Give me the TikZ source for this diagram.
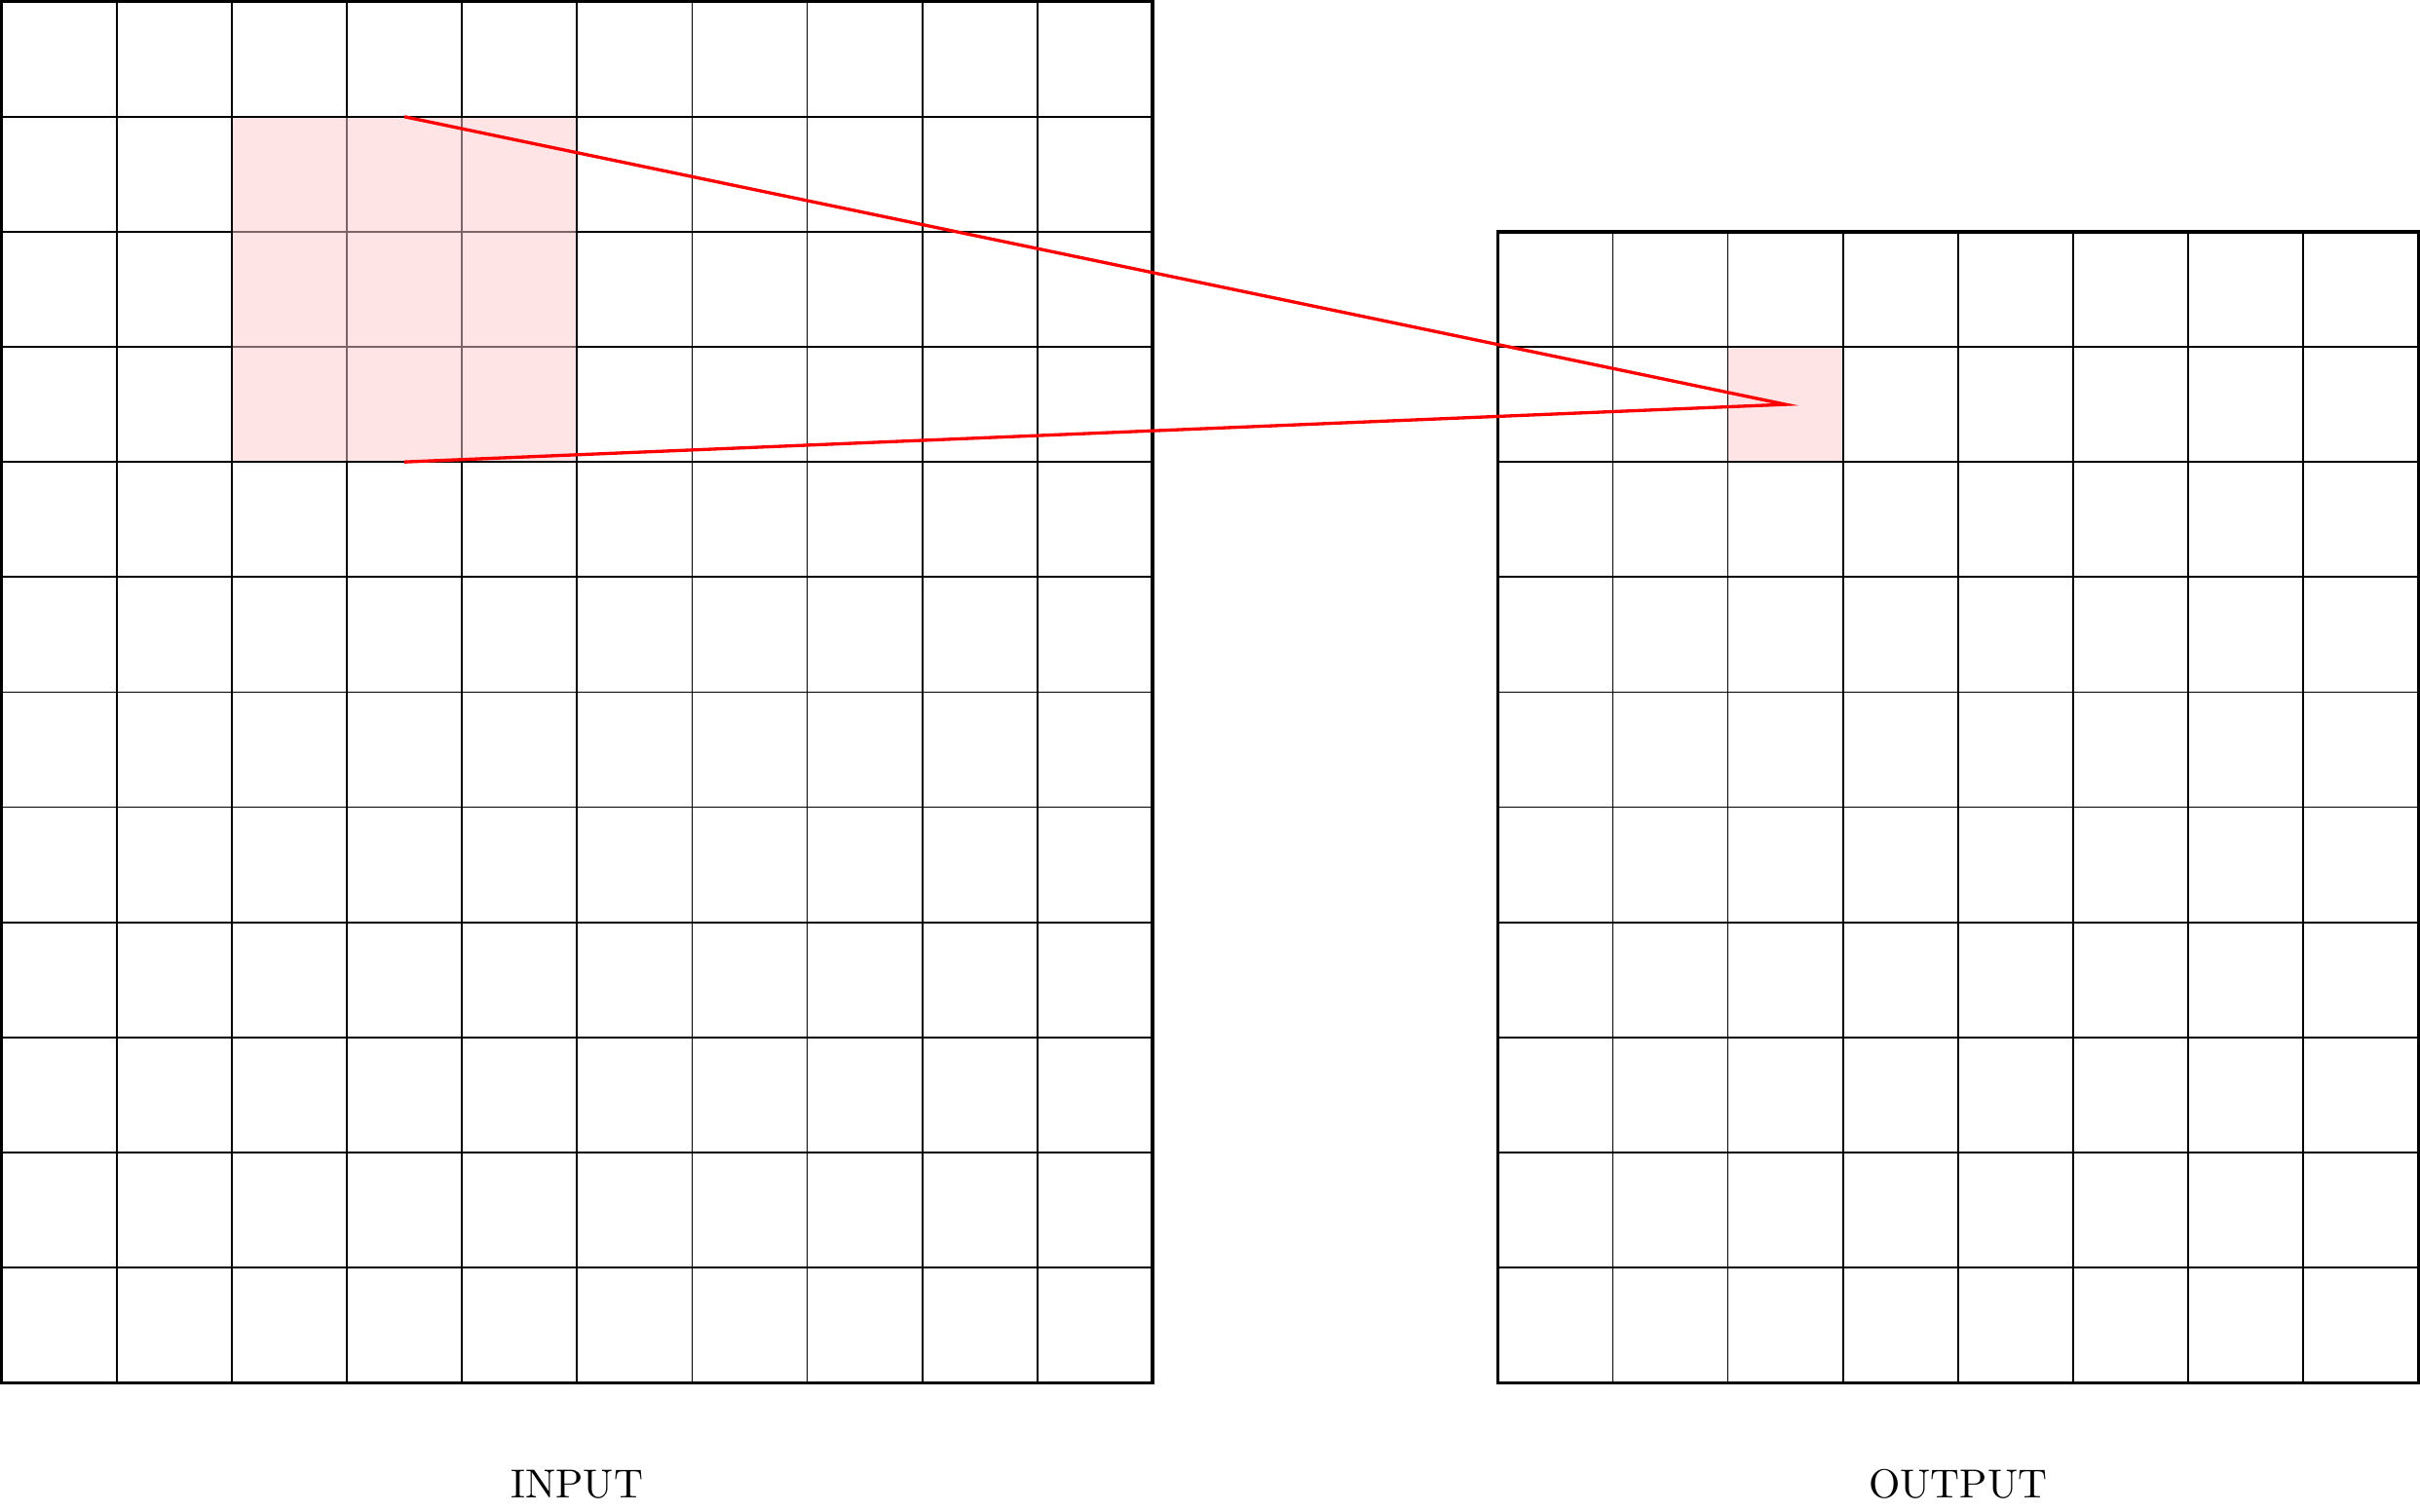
\documentclass[tikz,border=0pt]{standalone}
\definecolor{hlpink}{RGB}{255,228,230}
\definecolor{hlline}{RGB}{128,99,100}
\begin{document}
\begin{tikzpicture}[
  gridline/.style={line width=0.4pt, black},
  innerline/.style={line width=0.6pt, hlline},
  border/.style={line width=0.8pt, black},
  hilite/.style={fill=hlpink},
  link/.style={red, line width=0.8pt},
  caption/.style={anchor=base, font=\normalsize}
]
\useasboundingbox (-0.014,-13.117) rectangle (21.014,0.014);
% highlighted regions (under the grids)
\fill[hilite] (2,-4) rectangle (5,-1);
\fill[hilite] (15,-4) rectangle (16,-3);
% input grid
\foreach \i in {1,...,9} \draw[gridline] (\i,-12) -- (\i,0);
\foreach \j in {1,...,11} \draw[gridline] (0,-\j) -- (10,-\j);
\draw[border] (0,-12) rectangle (10,0);
\draw[innerline] (3,-4) -- (3,-1) (4,-4) -- (4,-1) (2,-2) -- (5,-2) (2,-3) -- (5,-3);
\draw[gridline] (2,-4) rectangle (5,-1);
% output grid
\foreach \i in {14,...,20} \draw[gridline] (\i,-12) -- (\i,-2);
\foreach \j in {3,...,11} \draw[gridline] (13,-\j) -- (21,-\j);
\draw[border] (13,-12) rectangle (21,-2);
% connector
\coordinate (kt) at (3.5,-1);
\coordinate (kb) at (3.5,-4);
\coordinate (oc) at (15.5,-3.5);
\draw[link] (kt) -- (oc) -- (kb);
% labels
\node[caption] (in) at (5,-13) {INPUT};
\node[caption] (out) at (17,-13) {OUTPUT};
\end{tikzpicture}
\end{document}
